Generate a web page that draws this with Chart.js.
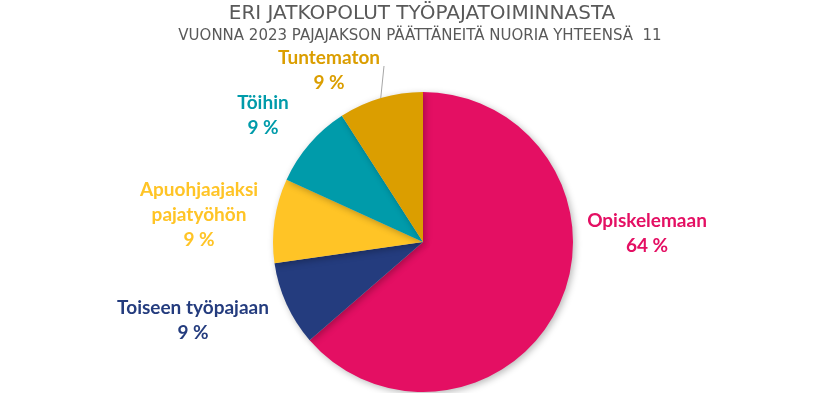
<!DOCTYPE html>
<html lang="fi">
<head>
  <meta charset="UTF-8" />
  <title>Eri jatkopolut työpajatoiminnasta</title>
  <script src="https://cdn.jsdelivr.net/npm/chart.js@4.4.0/dist/chart.umd.min.js"></script>
  <style>
    * { margin: 0; padding: 0; box-sizing: border-box; }
    body { background: #ffffff; width: 839px; height: 393px; overflow: hidden; }
    .wrap { position: relative; width: 839px; height: 393px; }
  </style>
</head>
<body>
  <div class="wrap">
    <canvas id="pieChart" width="839" height="393"></canvas>
  </div>

  <script>
    // Data (11 young people in total)
    const categories = ['Opiskelemaan', 'Toiseen työpajaan', 'Apuohjaajaksi pajatyöhön', 'Töihin', 'Tuntematon'];
    const counts = [7, 1, 1, 1, 1];
    const percentLabels = ['64 %', '9 %', '9 %', '9 %', '9 %'];
    const titleText = 'ERI JATKOPOLUT TYÖPAJATOIMINNASTA';
    const subtitleText = 'VUONNA 2023 PAJAJAKSON PÄÄTTÄNEITÄ NUORIA YHTEENSÄ  11';

    const colors = ['#E40F63', '#243C7E', '#FFC426', '#009BAA', '#DB9E00'];

    // label text lines and where each block sits (centre x, first baseline y)
    const labelLines = [
      ['Opiskelemaan', percentLabels[0]],
      ['Toiseen työpajaan', percentLabels[1]],
      ['Apuohjaajaksi', 'pajatyöhön', percentLabels[2]],
      ['Töihin', percentLabels[3]],
      ['Tuntematon', percentLabels[4]]
    ];
    const labelPos = [
      { x: 647, y: 227 },
      { x: 193, y: 314 },
      { x: 199, y: 196 },
      { x: 263, y: 109 },
      { x: 329, y: 64 }
    ];

    const shadowPlugin = {
      id: 'pieShadow',
      beforeDatasetDraw(chart) {
        const ctx = chart.ctx;
        ctx.save();
        ctx.shadowColor = 'rgba(0,0,0,0.28)';
        ctx.shadowBlur = 7;
        ctx.shadowOffsetX = 2;
        ctx.shadowOffsetY = 2;
      },
      afterDatasetDraw(chart) {
        chart.ctx.restore();
      }
    };

    const textPlugin = {
      id: 'pieText',
      afterDraw(chart) {
        const ctx = chart.ctx;
        ctx.save();
        ctx.textAlign = 'center';
        ctx.textBaseline = 'alphabetic';
        ctx.fillStyle = '#595959';
        ctx.font = '20px "DejaVu Sans"';
        ctx.fillText(titleText, 422, 19);
        ctx.font = '15px "DejaVu Sans"';
        ctx.fillText(subtitleText, 420, 40);

        // leader line for the small slice label
        const arc = chart.getDatasetMeta(0).data[4];
        const mid = (arc.startAngle + arc.endAngle) / 2;
        ctx.strokeStyle = '#A6A6A6';
        ctx.lineWidth = 1;
        ctx.beginPath();
        ctx.moveTo(384, 66);
        ctx.lineTo(arc.x + Math.cos(mid) * arc.outerRadius, arc.y + Math.sin(mid) * arc.outerRadius);
        ctx.stroke();

        ctx.font = 'bold 19px Lato';
        labelLines.forEach((lines, i) => {
          ctx.fillStyle = colors[i];
          lines.forEach((t, j) => {
            ctx.fillText(t, labelPos[i].x, labelPos[i].y + j * 25);
          });
        });
        ctx.restore();
      }
    };

    new Chart(document.getElementById('pieChart'), {
      type: 'pie',
      data: {
        labels: categories,
        datasets: [{
          data: counts,
          backgroundColor: colors,
          borderWidth: 0
        }]
      },
      options: {
        responsive: false,
        animation: false,
        layout: { padding: { top: 92, bottom: 1, left: 273, right: 266 } },
        plugins: {
          legend: { display: false },
          tooltip: { enabled: false },
          title: { display: false }
        }
      },
      plugins: [shadowPlugin, textPlugin]
    });
  </script>
</body>
</html>
